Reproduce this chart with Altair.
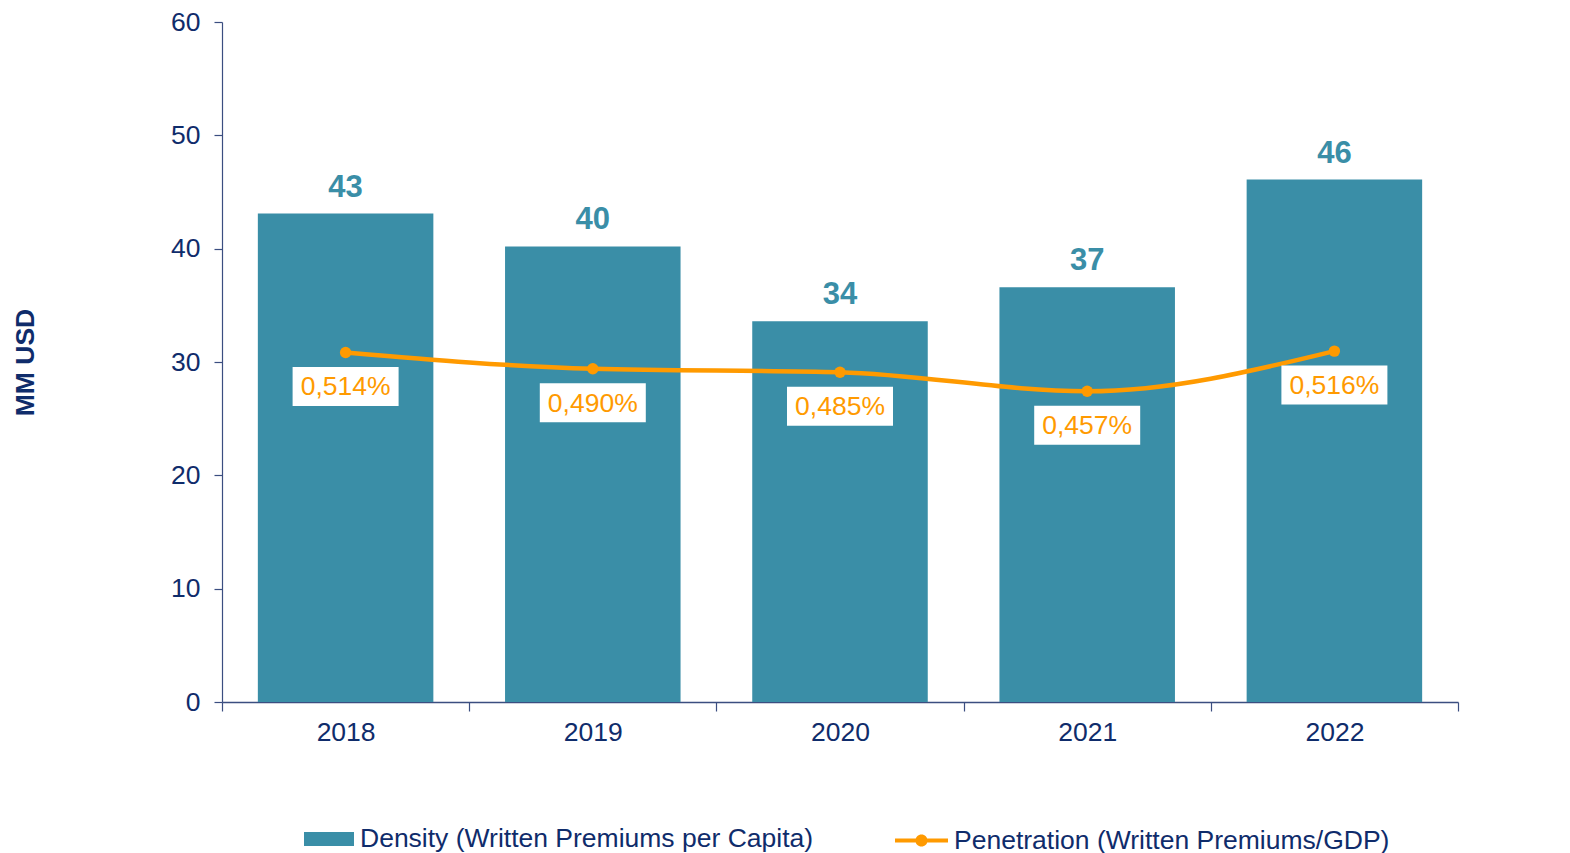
import altair as alt
import pandas as pd

years = ["2018", "2019", "2020", "2021", "2022"]
density = [43.1, 40.2, 33.6, 36.6, 46.1]
penetration = [0.514, 0.490, 0.485, 0.457, 0.516]
density_name = "Density (Written Premiums per Capita)"
penetration_name = "Penetration (Written Premiums/GDP)"

df = pd.DataFrame({
    "year": years,
    "density": density,
    "pen": penetration,
    "s1": density_name,
    "s2": penetration_name,
})

TEAL = "#3A8EA7"
ORANGE = "#FF9A00"
NAVY = "#0F2C6B"
AXIS = "#3B4E80"
FONT = "Liberation Sans"
FS = 26.5

x = alt.X("year:N", title=None,
          scale=alt.Scale(paddingInner=0, paddingOuter=0),
          axis=alt.Axis(labelAngle=0, labelFontSize=FS, labelColor=NAVY, labelFont=FONT,
                        domainColor=AXIS, tickColor=AXIS, tickSize=9, tickBand="extent",
                        labelPadding=8, domainWidth=1.5, tickWidth=1.2))

yl = alt.Y("density:Q", title="MM USD",
           scale=alt.Scale(domain=[0, 60]),
           axis=alt.Axis(values=[0, 10, 20, 30, 40, 50, 60], grid=False,
                         labelFontSize=FS, labelColor=NAVY, labelFont=FONT,
                         domainColor=AXIS, tickColor=AXIS, tickSize=8, labelPadding=14,
                         domainWidth=1.2, tickWidth=1.2,
                         titleFont=FONT, titleFontSize=FS, titleFontWeight="bold",
                         titleColor=NAVY, titleX=-197, titleY=340, titleAngle=270,
                         titleBaseline="middle"))

bars = alt.Chart(df).mark_bar(opacity=1, width=alt.RelativeBandSize(0.71)).encode(
    x=x, y=yl,
    fill=alt.Fill("s1:N", scale=alt.Scale(domain=[density_name], range=[TEAL]),
                  legend=alt.Legend(title=None, orient="none", legendX=82, legendY=792,
                                    symbolType="M-1,-0.28H1V0.28H-1Z", symbolSize=2500,
                                    symbolStrokeWidth=0, labelFontSize=FS, labelColor=NAVY,
                                    labelFont=FONT, labelOffset=6, symbolOpacity=1,
                                    labelLimit=800)),
)

bar_labels = alt.Chart(df).mark_text(
    fontSize=31, fontWeight="bold", color=TEAL, font=FONT, baseline="alphabetic", dy=-17
).encode(x=x, y=alt.Y("density:Q"), text=alt.Text("density:Q", format=".0f"))

yr = alt.Y("pen:Q", title=None,
           scale=alt.Scale(domain=[0, 1.0]),
           axis=alt.Axis(orient="right", values=[0, 0.2, 0.4, 0.6, 0.8, 1.0], grid=False,
                         labelExpr="replace(format(datum.value, '.2f'), '.', ',') + '%'",
                         labelFontSize=FS, labelColor=NAVY, labelFont=FONT,
                         domainColor=AXIS, tickColor=AXIS, tickSize=8, labelPadding=4,
                         domainWidth=1.2, tickWidth=1.2))

line = alt.Chart(df).mark_line(color=ORANGE, strokeWidth=4.5, interpolate="monotone").encode(
    x=x, y=yr)

points = alt.Chart(df).mark_point(filled=True, size=130, opacity=1, shape="circle").encode(
    x=x, y=alt.Y("pen:Q", axis=None),
    fill=alt.Fill("s2:N", scale=alt.Scale(domain=[penetration_name], range=[ORANGE]),
                  legend=alt.Legend(title=None, orient="none", legendX=673, legendY=792,
                                    symbolType="M-1,-0.075H1V0.075H-1Z M-0.23,0A0.23,0.23 0 1,1 0.23,0A0.23,0.23 0 1,1 -0.23,0Z",
                                    symbolSize=2809, symbolStrokeWidth=0, labelFontSize=FS,
                                    labelColor=NAVY, labelFont=FONT, labelOffset=6,
                                    symbolOpacity=1, labelLimit=800)),
)

boxes = alt.Chart(df).mark_point(
    shape="M-1,-0.368H1V0.368H-1Z", size=11236, filled=True, fill="white",
    opacity=1, strokeWidth=0, yOffset=34
).encode(x=x, y=alt.Y("pen:Q", axis=None))

pen_text = alt.Chart(df).transform_calculate(
    lbl="replace(format(datum.pen, '.3f'), '.', ',') + '%'"
).mark_text(fontSize=FS, color=ORANGE, font=FONT, baseline="middle", dy=35).encode(
    x=x, y=alt.Y("pen:Q", axis=None), text="lbl:N")

left = alt.layer(bars, bar_labels)
right = alt.layer(line, points, boxes, pen_text)

chart = alt.layer(left, right).resolve_scale(
    y="independent", fill="independent"
).resolve_legend(fill="independent").properties(
    width=1236, height=680,
    autosize=alt.AutoSizeParams(type="none"),
    padding={"left": 214, "top": 14, "right": 100, "bottom": 151},
).configure_view(stroke=None).configure_axis(grid=False)

chart.save("out.html", embed_options={"renderer": "svg", "actions": False})
